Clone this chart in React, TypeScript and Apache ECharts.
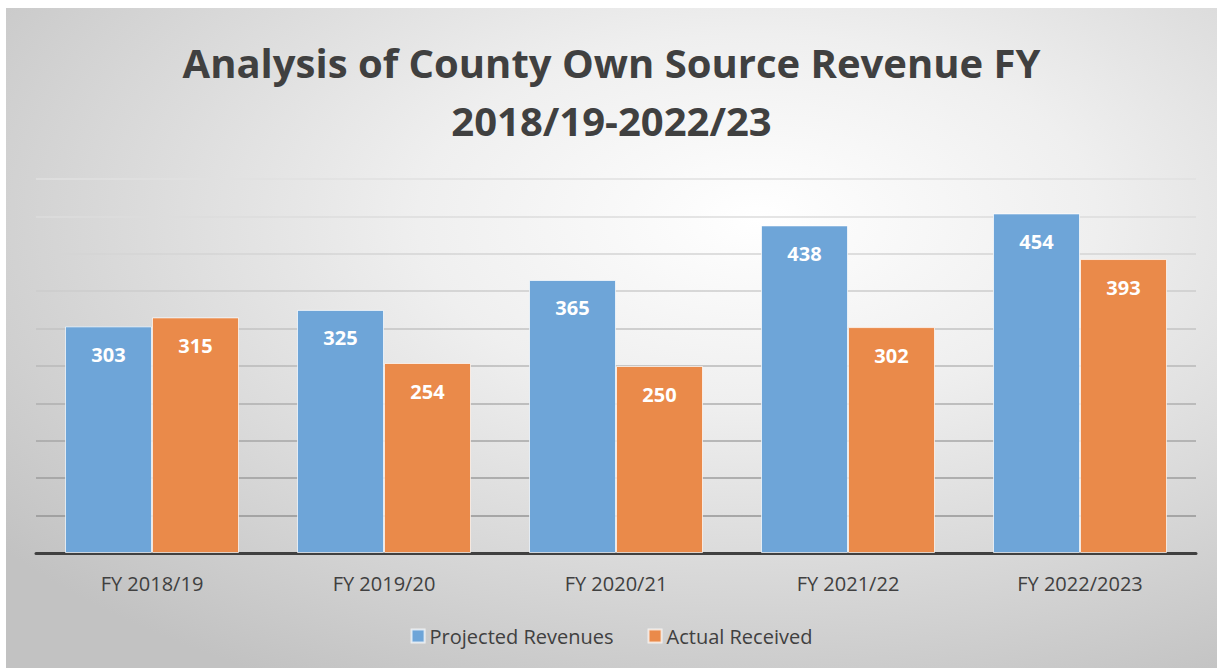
import React, { useEffect, useRef } from "react";
import * as echarts from "echarts";

const categories = ["FY 2018/19", "FY 2019/20", "FY 2020/21", "FY 2021/22", "FY 2022/2023"];
const projected = [303, 325, 365, 438, 454];
const actual = [315, 254, 250, 302, 393];
const seriesNames = ["Projected Revenues", "Actual Received"];
const titleLines = ["Analysis of County Own Source Revenue FY", "2018/19-2022/23"];

export default function App() {
  const ref = useRef<HTMLDivElement>(null);
  useEffect(() => {
    if (!ref.current) return;
    const chart = echarts.init(ref.current, null, { renderer: "svg" });
    const font = "'Open Sans', 'Noto Sans', sans-serif";
    const gridColors = [
      "#8c8c8c", "#959595", "#9d9d9d", "#a6a6a6", "#afafaf",
      "#b9b9b9", "#c3c3c3", "#cdcdcd", "#d5d5d5", "#dcdcdc", "#e0e0e0",
    ];
    const labelStyle = {
      show: true,
      position: "insideTop",
      distance: 18,
      color: "#ffffff",
      fontFamily: font,
      fontWeight: "bold",
      fontSize: 20,
    };
    chart.setOption({
      animation: false,
      backgroundColor: {
        type: "radial",
        x: 0.62,
        y: 0.32,
        r: 0.8,
        colorStops: [
          { offset: 0, color: "#ffffff" },
          { offset: 0.35, color: "#efefef" },
          { offset: 1, color: "#c2c2c2" },
        ],
      },
      title: {
        text: titleLines.join("\n"),
        left: "center",
        top: 20,
        textStyle: {
          fontFamily: font,
          fontWeight: "bold",
          fontSize: 40,
          lineHeight: 58,
          color: "#404040",
        },
      },
      legend: {
        bottom: 17,
        left: "center",
        itemWidth: 13,
        itemHeight: 13,
        itemGap: 34,
        icon: "rect",
        textStyle: { fontFamily: font, fontSize: 20, color: "#404040" },
        data: seriesNames,
      },
      grid: { left: 30, right: 21, top: 171, bottom: 115, containLabel: false },
      xAxis: {
        type: "category",
        data: categories,
        axisLine: { show: true, lineStyle: { color: "#404040", width: 3 } },
        axisTick: { show: false },
        axisLabel: { fontFamily: font, fontSize: 20, color: "#404040", margin: 20 },
      },
      yAxis: {
        type: "value",
        min: 0,
        max: 500,
        interval: 50,
        axisLabel: { show: false },
        axisLine: { show: false },
        axisTick: { show: false },
        splitLine: { show: true, lineStyle: { color: gridColors, width: 1.5 } },
      },
      series: [
        {
          name: seriesNames[0],
          type: "bar",
          data: projected,
          barGap: "0%",
          barCategoryGap: "25%",
          itemStyle: { color: "#6ea5d8", borderColor: "rgba(255,255,255,0.7)", borderWidth: 1 },
          label: labelStyle,
        },
        {
          name: seriesNames[1],
          type: "bar",
          data: actual,
          itemStyle: { color: "#ea8a4a", borderColor: "rgba(255,255,255,0.7)", borderWidth: 1 },
          label: labelStyle,
        },
      ],
    });
    return () => chart.dispose();
  }, []);
  return (
    <div
      ref={ref}
      style={{ position: "absolute", left: 6, top: 8, width: 1211, height: 660 }}
    />
  );
}
